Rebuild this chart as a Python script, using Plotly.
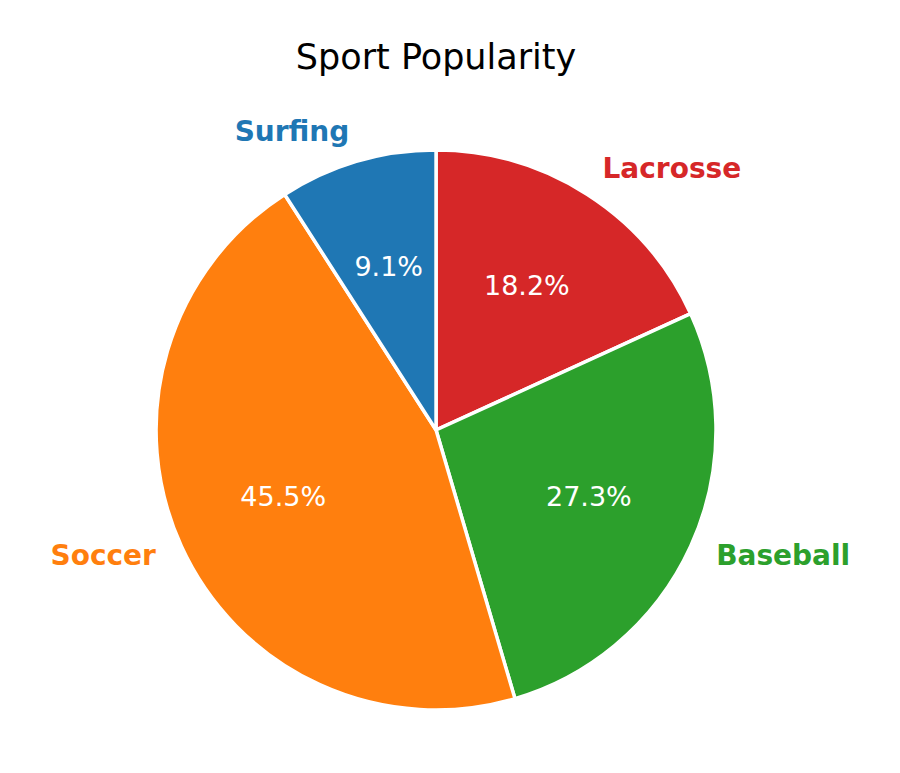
import plotly.graph_objects as go

# Sport popularity shares (order: clockwise from 12 o'clock)
sports = ['Lacrosse', 'Baseball', 'Soccer', 'Surfing']
votes = [2, 3, 5, 1]
colors = ['#d62728', '#2ca02c', '#ff7f0e', '#1f77b4']

total = sum(votes)
# angular span and middle angle of each wedge (degrees, clockwise from the top)
spans = [v / total * 360 for v in votes]
mid_angles = []
start = 0
for s in spans:
    mid_angles.append(start + s / 2)
    start += s
pct_text = [f'{v / total:.1%}' for v in votes]
# names go left-aligned on the right half, right-aligned on the left half
name_pos = ['middle right' if a < 180 else 'middle left' for a in mid_angles]

# radial axis runs a bit past the wedges so the names at 1.1 are kept;
# the page body has an 8px margin, so the domain is nudged up/left
dom = dict(x=[0.1272, 0.824], y=[0.0484, 0.8598])

fig = go.Figure()

# wedges drawn as polar bars so the labels can sit on top
fig.add_trace(go.Barpolar(
    r=[1] * len(votes), theta=mid_angles, width=spans,
    marker=dict(color=colors, line=dict(color='white', width=3.5)),
    showlegend=False, hovertext=sports, hoverinfo='text',
))

# percentages at 0.6 of the radius
fig.add_trace(go.Scatterpolar(
    r=[0.6] * len(votes), theta=mid_angles, mode='text', text=pct_text,
    textposition='middle center',
    textfont=dict(color='white', size=27, family='DejaVu Sans'),
    showlegend=False, hoverinfo='skip', cliponaxis=False,
))

# names at 1.1 of the radius
fig.add_trace(go.Scatterpolar(
    r=[1.1] * len(votes), theta=mid_angles, mode='text',
    text=[f'<b>{s}</b>' for s in sports], textposition=name_pos,
    textfont=dict(color=colors, size=28, family='DejaVu Sans'),
    showlegend=False, hoverinfo='skip', cliponaxis=False,
))

fig.update_layout(
    title=dict(text='Sport Popularity', x=0.4756, xanchor='center', y=0.937, yanchor='middle',
               font=dict(size=35, family='DejaVu Sans', color='black')),
    polar=dict(
        domain=dom, bgcolor='rgba(0,0,0,0)', bargap=0,
        radialaxis=dict(range=[0, 1.12], visible=False, showgrid=False),
        angularaxis=dict(rotation=90, direction='clockwise', visible=False, showgrid=False),
    ),
    width=900, height=773,
    margin=dict(l=0, r=0, t=0, b=0),
    paper_bgcolor='white', plot_bgcolor='white',
)

fig.write_html("out.html")
